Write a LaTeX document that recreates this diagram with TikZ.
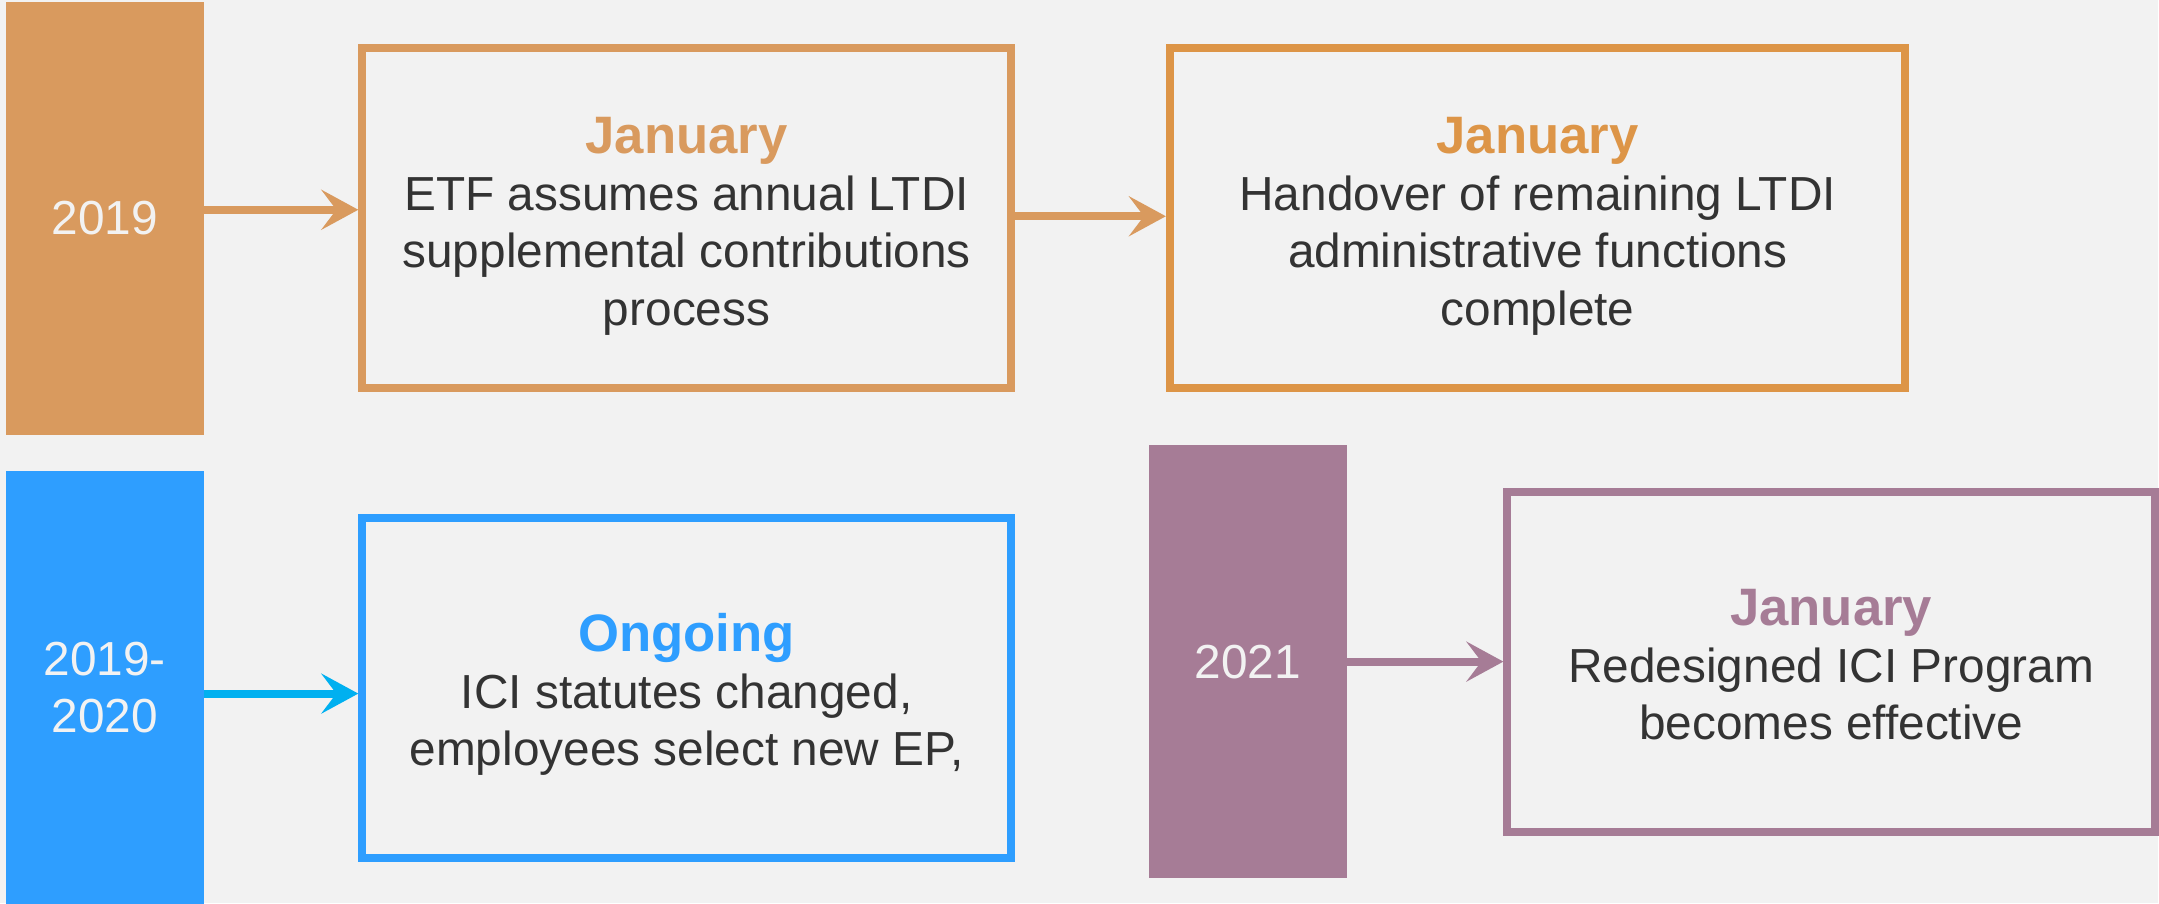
\documentclass[tikz,border=0pt]{standalone}
\usepackage{fontspec}
\setmainfont{Liberation Sans}
\usetikzlibrary{positioning,arrows.meta}

% title line + body lines of one event box
\newcommand{\milestone}[3]{{\color{#1}\fontsize{15}{16.3}\selectfont\bfseries\rule{0pt}{0.54cm}#2}\\#3\rule[-0.12cm]{0pt}{0pt}}

\begin{document}
\begin{tikzpicture}[
    yearbar/.style={fill=#1, minimum width=1.98cm, minimum height=4.33cm, inner sep=0pt,
        text=barText, font=\fontsize{13.6}{16.3}\selectfont, align=center},
    eventbox/.style={draw=#1, line width=0.08cm, minimum height=3.4cm, inner sep=0pt,
        text=bodyText, font=\fontsize{13.6}{16.3}\selectfont, align=center},
    link/.style={draw=#1, line width=0.08cm, -{Stealth[length=0.37cm,width=0.4cm,inset=0.15cm]}}
]
    % Define colors
    \definecolor{bgGray}{RGB}{242,242,242}
    \definecolor{barText}{RGB}{242,242,242}
    \definecolor{bodyText}{RGB}{51,51,51}
    \definecolor{tlOrange}{RGB}{217,154,94}
    \definecolor{tlAmber}{RGB}{221,149,71}
    \definecolor{tlBlue}{RGB}{46,158,255}
    \definecolor{tlCyan}{RGB}{0,176,240}
    \definecolor{tlPurple}{RGB}{166,124,150}

    % Draw background
    \fill[bgGray] (0,0) rectangle (21.59,9.04);

    % Year bars
    \node[yearbar=tlOrange] (bar2019) at (1.048,6.856) {2019};
    \node[yearbar=tlBlue] (bar1920) at (1.048,2.16) {2019-\\2020};
    \node[yearbar=tlPurple] (bar2021) at (12.485,2.42) {2021};

    % Event boxes
    \node[eventbox=tlOrange, minimum width=6.49cm, right=1.54cm of bar2019] (box1)
        {\milestone{tlOrange}{January}{ETF assumes annual LTDI\\supplemental contributions\\process}};
    \node[eventbox=tlAmber, minimum width=7.36cm, right=1.51cm of box1] (box2)
        {\milestone{tlAmber}{January}{Handover of remaining LTDI\\administrative functions\\complete}};
    \node[eventbox=tlBlue, minimum width=6.49cm, right=1.54cm of bar1920] (box3)
        {\milestone{tlBlue}{Ongoing}{ICI statutes changed,\\employees select new EP,}};
    \node[eventbox=tlPurple, minimum width=6.48cm, right=1.56cm of bar2021] (box4)
        {\milestone{tlPurple}{January}{Redesigned ICI Program\\becomes effective}};

    % Arrows
    \draw[link=tlOrange] ([yshift=0.085cm]bar2019.east) -- ([yshift=0.085cm]box1.west);
    \draw[link=tlOrange] ([yshift=0.02cm]box1.east) -- ([yshift=0.02cm]box2.west);
    \draw[link=tlCyan] ([yshift=-0.06cm]bar1920.east) -- ([yshift=-0.06cm]box3.west);
    \draw[link=tlPurple] (bar2021.east) -- (box4.west);
\end{tikzpicture}
\end{document}
